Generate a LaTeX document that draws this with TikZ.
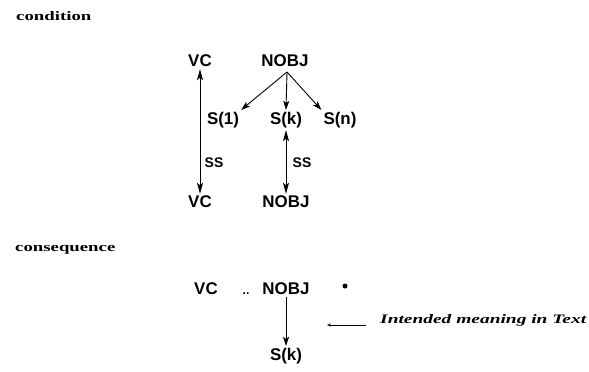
\documentclass[tikz,border=0pt]{standalone}
\usepackage{fontspec}
\usepackage{graphicx}
\setmainfont{Liberation Serif}
\setsansfont{Liberation Sans}
\usetikzlibrary{arrows.meta}
\newcommand\widetxt[2][1.45]{\scalebox{#1}[1]{#2}}
\begin{document}
\begin{tikzpicture}[x=1bp,y=-1bp,
  lab/.style={font=\sffamily\bfseries\fontsize{17}{18}\selectfont, inner sep=2bp},
  sslab/.style={font=\sffamily\bfseries\fontsize{14}{15}\selectfont, inner sep=0bp},
  head/.style={font=\rmfamily\bfseries\fontsize{13}{14}\selectfont, inner sep=0bp, anchor=west},
  conn/.style={line width=0.9bp, -{Stealth[length=9bp,width=6bp,inset=2bp]}},
  dconn/.style={line width=0.9bp, {Stealth[length=11bp,width=6bp,inset=2.5bp]}-{Stealth[length=11bp,width=6bp,inset=2.5bp]}}
]
\useasboundingbox (0,0) rectangle (589,371);
% condition
\node[head] (cond) at (16,16) {\widetxt{condition}};
\node[lab] (vc1) at (200,61) {VC};
\node[lab] (nobj1) at (285,61) {NOBJ};
\node[lab] (s1) at (223,120) {S(1)};
\node[lab] (sk) at (286,120) {S(k)};
\node[lab] (sn) at (340,120) {S(n)};
\node[lab] (vc2) at (200,202) {VC};
\node[lab] (nobj2) at (286,202) {NOBJ};
\node[sslab] (ss1) at (214,163) {SS};
\node[sslab] (ss2) at (302,163) {SS};
\coordinate (fan) at (287,72);
\draw[conn] (fan) -- (s1.north east);
\draw[conn] (fan) -- (sk.north);
\draw[conn] (fan) -- (sn.north west);
\draw[dconn] (vc1.south) -- (vc2.north);
\draw[dconn] (sk.south) -- (nobj2.north);
% consequence
\node[head] (cons) at (15,250) {\widetxt{consequence}};
\node[lab] (vc3) at (206,289) {VC};
\node[font=\sffamily\bfseries\fontsize{12}{13}\selectfont, inner sep=0bp] (dd) at (246,294) {..};
\node[lab] (nobj3) at (286,289) {NOBJ};
\node[circle, fill=black, inner sep=0bp, minimum size=5bp] (star) at (345,286) {};
\node[lab] (sk3) at (286,356) {S(k)};
\draw[conn] (nobj3.south) -- (sk3.north);
\coordinate (lineR) at (366,325);
\coordinate (lineL) at (327,325);
\draw[line width=0.9bp, -{Stealth[length=4bp,width=3bp]}] (lineR) -- (lineL);
\node[font=\rmfamily\bfseries\itshape\fontsize{13}{14}\selectfont, inner sep=0bp, anchor=west] (meaning) at (380,320) {\widetxt[1.5]{Intended meaning in Text}};
\end{tikzpicture}
\end{document}
